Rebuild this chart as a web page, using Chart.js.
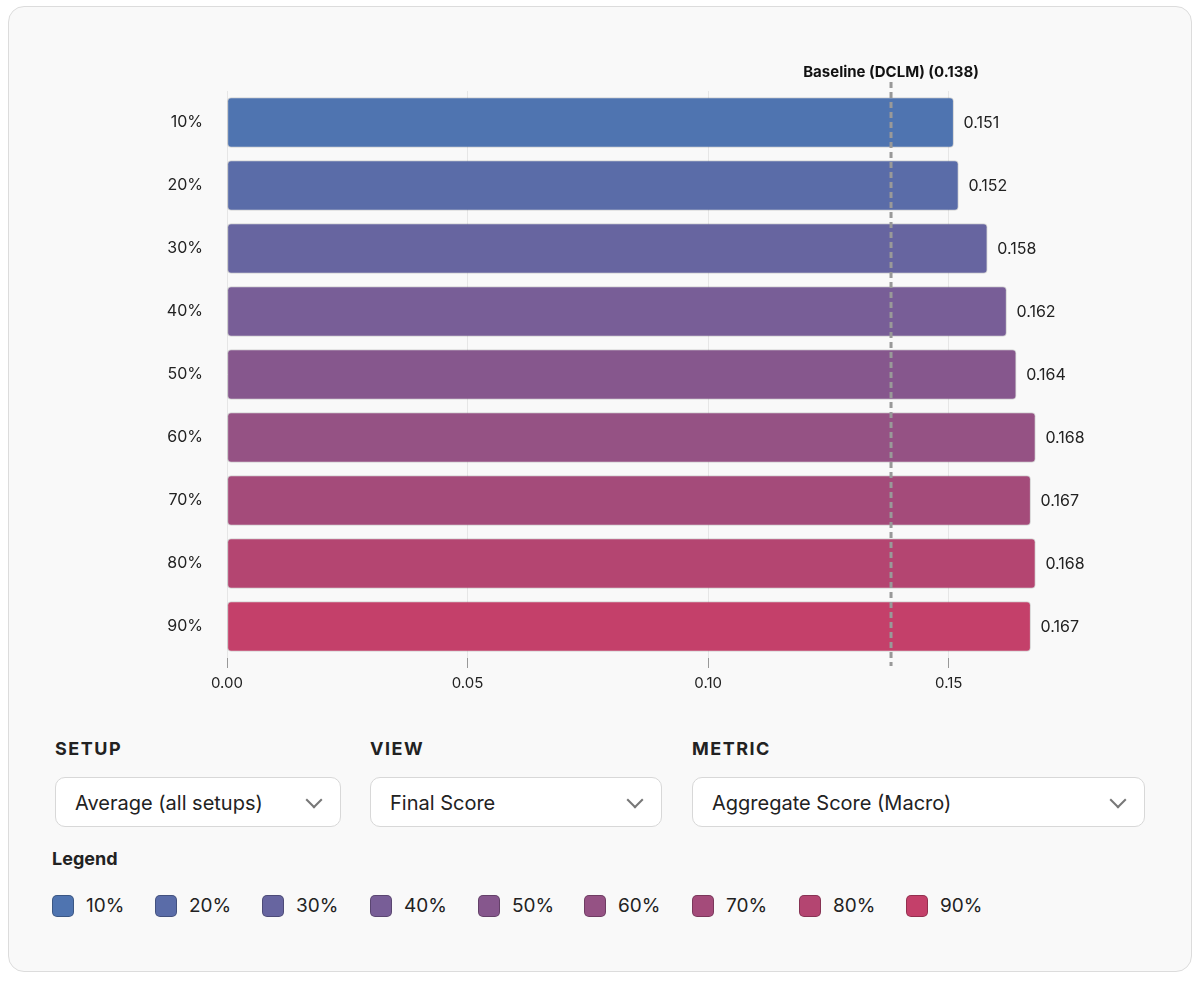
<!DOCTYPE html>
<html>
<head>
<meta charset="utf-8">
<script src="https://cdn.jsdelivr.net/npm/chart.js@4"></script>
<style>
  body { margin: 0; background: #fff; font-family: "Inter", "Noto Sans", sans-serif; color: #222; }
  .card { position: absolute; left: 8px; top: 6px; width: 1182px; height: 964px; border: 1.5px solid #dcdcdc; border-radius: 16px; background: #f9f9f9; }
  #wrap { position: absolute; left: 0; top: 0; width: 1200px; height: 700px; }
  .lbl { position: absolute; top: 738px; font-weight: 700; font-size: 18px; letter-spacing: 1.5px; }
  .sel { position: absolute; top: 777px; height: 50px; border: 1.5px solid #d8d8d8; border-radius: 10px; background: #fff; font-size: 20px; line-height: 50px; padding-left: 19px; box-sizing: border-box; }
  .sel::after { content: ""; position: absolute; right: 20px; top: 16px; width: 10px; height: 10px; border-right: 2px solid #777; border-bottom: 2px solid #777; transform: rotate(45deg); }
  .lh { position: absolute; left: 52px; top: 848px; font-weight: 700; font-size: 18px; }
  #legend { position: absolute; left: 52px; top: 894px; }
  .it { position: absolute; top: 0; display: flex; align-items: center; font-size: 19px; white-space: nowrap; }
  .sw { width: 22px; height: 22px; border-radius: 5px; margin-right: 12px; box-sizing: border-box; border: 1px solid rgba(0,0,0,0.25); }
</style>
</head>
<body>
<div class="card"></div>
<div id="wrap"><canvas id="myChart"></canvas></div>
<div class="lbl" style="left:55px">SETUP</div>
<div class="lbl" style="left:370px">VIEW</div>
<div class="lbl" style="left:692px">METRIC</div>
<div class="sel" style="left:55px;width:286px">Average (all setups)</div>
<div class="sel" style="left:370px;width:292px">Final Score</div>
<div class="sel" style="left:692px;width:453px">Aggregate Score (Macro)</div>
<div class="lh">Legend</div>
<div id="legend"></div>
<script>
const categories = ["10%", "20%", "30%", "40%", "50%", "60%", "70%", "80%", "90%"];
const scores = [0.151, 0.152, 0.158, 0.162, 0.164, 0.168, 0.167, 0.168, 0.167];
const colors = ["#4f74b0", "#5a6ca8", "#6765a0", "#785e97", "#86578d", "#955284", "#a44b7a", "#b44571", "#c4406a"];
const xTicks = [0, 0.05, 0.1, 0.15];
const baselineValue = 0.138;
const baselineLabel = "Baseline (DCLM) (0.138)";
const legendX = [0, 103, 210, 318, 426, 532, 640, 747, 854];

const legend = document.getElementById("legend");
categories.forEach((c, i) => {
  legend.innerHTML += `<div class="it" style="left:${legendX[i]}px"><div class="sw" style="background:${colors[i]}"></div>${c}</div>`;
});

const extras = {
  id: "extras",
  afterDatasetsDraw(chart) {
    const ctx = chart.ctx;
    const x = chart.scales.x;
    const meta = chart.getDatasetMeta(0);
    ctx.save();
    ctx.font = "16px Inter, sans-serif";
    ctx.fillStyle = "#222";
    ctx.textBaseline = "middle";
    meta.data.forEach((bar, i) => {
      ctx.fillText(scores[i].toFixed(3), bar.x + 10, bar.y + 1);
    });
    const bx = x.getPixelForValue(baselineValue);
    ctx.strokeStyle = "#999";
    ctx.lineWidth = 3;
    ctx.setLineDash([6, 4]);
    ctx.beginPath();
    ctx.moveTo(bx, 82);
    ctx.lineTo(bx, 666);
    ctx.stroke();
    ctx.setLineDash([]);
    ctx.font = "bold 15px Inter, sans-serif";
    ctx.textAlign = "center";
    ctx.fillStyle = "#111";
    ctx.fillText(baselineLabel, bx, 72);
    ctx.restore();
  }
};

new Chart(document.getElementById("myChart"), {
  type: "bar",
  data: {
    labels: categories,
    datasets: [{
      data: scores,
      backgroundColor: colors,
      borderColor: "rgba(0,0,0,0.15)",
      borderWidth: 1,
      borderRadius: 4,
      borderSkipped: false,
      barThickness: 50,
    }],
  },
  options: {
    indexAxis: "y",
    responsive: true,
    maintainAspectRatio: false,
    animation: false,
    layout: { padding: { top: 91, right: 155, left: 0, bottom: 0 } },
    plugins: { legend: { display: false }, tooltip: { enabled: false } },
    scales: {
      x: {
        min: 0,
        max: 0.17,
        afterBuildTicks: (s) => { s.ticks = xTicks.map((v) => ({ value: v })); },
        afterFit: (s) => { s.height = 42; },
        grid: { color: "#e6e6e6", tickColor: "#999", tickLength: 10 },
        border: { display: false },
        ticks: { color: "#222", font: { size: 15, family: "Inter" }, padding: 6, callback: (v) => v.toFixed(2) },
      },
      y: {
        afterFit: (s) => { s.width = 227; },
        grid: { display: false },
        border: { display: false },
        ticks: { color: "#222", font: { size: 16, family: "Inter" }, padding: 16 },
      },
    },
  },
  plugins: [extras],
});
</script>
</body>
</html>
